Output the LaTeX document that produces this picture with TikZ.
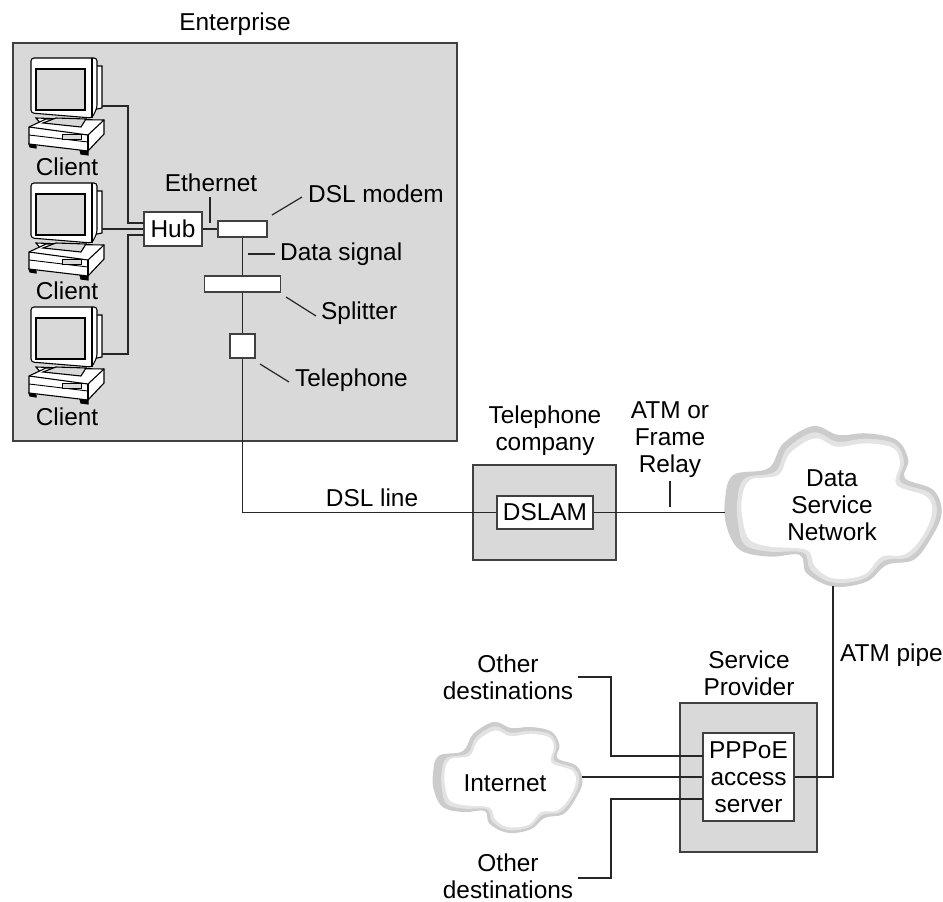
\documentclass[tikz,border=0pt]{standalone}
\usepackage{fontspec}
\setmainfont{Liberation Sans}
\tikzset{
	txt/.style={inner sep=0pt,align=center,font=\fontsize{24.4}{27}\selectfont},
	wire/.style={draw=black!85,line width=1.2pt},
	greybox/.style={draw=black!75,fill=black!15,line width=1.4pt,inner sep=0pt},
	whitebox/.style={draw=black!75,fill=white,line width=1.4pt,inner sep=0pt},
	client/.pic={
		\draw [line width=1.1pt,fill=white] (61,8) -- (71,8) -- (71,50) -- (61,52) -- cycle;
		\draw [line width=1.1pt,fill=white] (5,60) -- (57,62) -- (52,70) -- (10,66) -- cycle;
		\draw [line width=1.1pt,fill=white,rounded corners=3pt] (0,0) -- (66,0) -- (66,50) -- (61,60) -- (0,55) -- cycle;
		\draw [line width=1.1pt] (61,0) -- (61,60);
		\draw [line width=1.1pt,fill=black!15] (5,11) rectangle (54,52);
		\draw [line width=1.1pt,fill=black] (-2,86) -- (5,88) -- (5,90) -- (-1,89) -- cycle;
		\draw [line width=1.1pt,fill=black] (49,92) -- (57,93) -- (57,97) -- (50,96) -- cycle;
		\draw [line width=1.1pt,fill=white] (-2,69) -- (15,61) -- (73,62) -- (73,76) -- (57,93) -- (-2,86) -- cycle;
		\draw [line width=1.1pt] (-2,69) -- (57,77) -- (73,62);
		\draw [line width=1.1pt] (57,77) -- (57,93);
		\draw [line width=0.9pt] (-2,77) -- (57,84);
		\draw [line width=1pt,fill=black!15] (31,76) rectangle (50,81);
		\draw [line width=1.1pt,fill=black!15] (12,65) -- (25,60) -- (55,61) -- (50,69) -- cycle;
	},
	netcloud/.pic={
		\fill [black!20] plot [smooth cycle, tension=0.6] coordinates{(75,300) (100,225) (205,205) (250,130) (340,78) (415,105) (500,100) (590,120) (625,180) (615,235) (700,270) (725,340) (690,420) (640,480) (560,495) (500,545) (400,560) (320,520) (300,465) (210,470) (120,450) (80,380)};
		\fill [black!11] plot [smooth cycle, tension=0.6] coordinates{(112,300) (135,235) (225,215) (262,145) (342,97) (412,125) (500,116) (585,132) (612,185) (602,245) (690,280) (710,342) (675,420) (625,472) (552,482) (495,535) (400,548) (332,510) (310,458) (210,455) (135,435) (115,375)};
		\fill [white] plot [smooth cycle, tension=0.6] coordinates{(125,300) (150,240) (235,225) (270,160) (345,115) (410,140) (500,130) (580,145) (600,190) (590,255) (680,290) (695,345) (660,420) (610,465) (545,470) (490,525) (400,535) (345,500) (320,450) (210,440) (150,420) (130,370)};
	}
}
\begin{document}
\begin{tikzpicture}[x=1pt,y=-1pt]
	\useasboundingbox (0,0) rectangle (943,902);
	\node [greybox,minimum width=444pt,minimum height=398pt] (enterprise) at (235,242) {};
	\node [greybox,minimum width=143pt,minimum height=95pt] (telco) at (544.5,512.5) {};
	\node [greybox,minimum width=137pt,minimum height=149pt] (provider) at (748.5,777.5) {};
	\node [txt] (enterprisetxt) at (235,24) {Enterprise};
	\node [txt] (telcotxt) at (545,431) {Telephone\\company};
	\node [txt] (providertxt) at (749,673) {Service\\Provider};
	% clients
	\pic at (31,58) {client};
	\pic at (31,183) {client};
	\pic at (31,307) {client};
	\node [txt] (clienta) at (67,167) {Client};
	\node [txt] (clientb) at (67,291) {Client};
	\node [txt] (clientc) at (67,417) {Client};
	\coordinate (pca) at (102,106);
	\coordinate (pcb) at (102,229);
	\coordinate (pcc) at (102,354);
	% boxes
	\node [whitebox,txt,minimum width=58pt,minimum height=34pt] (hub) at (173,229) {Hub};
	\node [whitebox,minimum width=49pt,minimum height=16pt] (modem) at (242.5,229) {};
	\node [whitebox,minimum width=76pt,minimum height=16pt] (splitter) at (242.5,284) {};
	\node [whitebox,minimum width=25pt,minimum height=24pt] (phone) at (242.5,346) {};
	\node [whitebox,txt,minimum width=96pt,minimum height=33pt] (dslam) at (545,512.5) {DSLAM};
	\node [whitebox,txt,minimum width=91pt,minimum height=88pt] (pppoe) at (748.5,777) {PPPoE\\access\\server};
	\coordinate (huba) at (144,223);
	\coordinate (hubc) at (144,235);
	\coordinate (pppoea) at (703,756);
	\coordinate (pppoec) at (703,799);
	% clouds
	\pic at (700,400) [scale=0.3333] {netcloud};
	\pic at (415.75,704) [scale=0.23] {netcloud};
	\node [txt] (data) at (832,505) {Data\\Service\\Network};
	\node [txt] (internet) at (505,783) {Internet};
	\coordinate (dataw) at (725,512.5);
	\coordinate (datas) at (833,586);
	\coordinate (internete) at (582,777);
	% wires
	\draw [wire] (pca) -| (128,223) -- (huba);
	\draw [wire] (pcb) -- (hub.west);
	\draw [wire] (pcc) -| (128,235) -- (hubc);
	\draw [wire] (hub) -- (modem);
	\draw [wire] (modem) -- (splitter);
	\draw [wire] (splitter) -- (phone);
	\draw [wire] (phone) |- (dslam);
	\draw [wire] (dslam) -- (dataw);
	\draw [wire] (datas) |- (pppoe);
	\draw [wire] (internete) -- (pppoe);
	\coordinate (othera) at (578,677);
	\coordinate (otherc) at (578,878);
	\draw [wire] (othera) -| (611,756) -- (pppoea);
	\draw [wire] (otherc) -| (611,799) -- (pppoec);
	% labels
	\node [txt,anchor=west] (modemtxt) at (308,194) {DSL modem};
	\node [txt,anchor=west] (signaltxt) at (280,254) {Data signal};
	\node [txt,anchor=west] (splittertxt) at (321,313) {Splitter};
	\node [txt,anchor=west] (phonetxt) at (295,380) {Telephone};
	\node [txt] (ethernettxt) at (211,183) {Ethernet};
	\node [txt] (dsltxt) at (372,498) {DSL line};
	\node [txt] (atmtxt) at (670,440) {ATM or\\Frame\\Relay};
	\node [txt,anchor=west] (pipetxt) at (840,655) {ATM pipe};
	\node [txt] (othertxta) at (508,677.5) {Other\\destinations};
	\node [txt] (othertxtb) at (508,876.5) {Other\\destinations};
	% leaders
	\draw [wire] (210,197) -- (210,223);
	\draw [wire] (272,215) -- (302,197);
	\draw [wire] (248,254) -- (275,254);
	\draw [wire] (286,297) -- (316,316);
	\draw [wire] (260,364) -- (289,382);
	\draw [wire] (670,481) -- (670,507);
\end{tikzpicture}
\end{document}
